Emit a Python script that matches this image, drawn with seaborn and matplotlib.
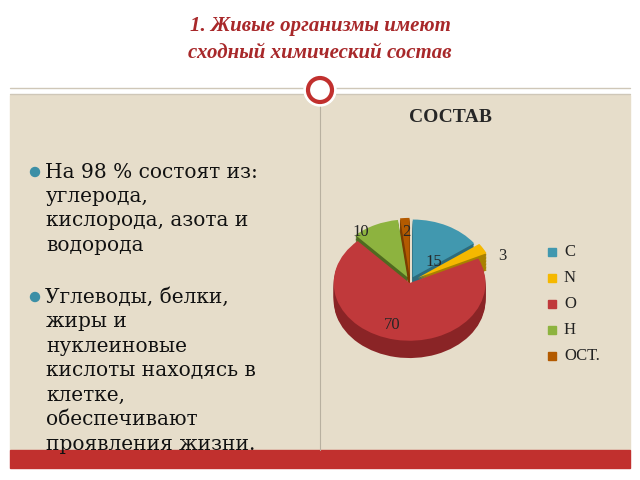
import matplotlib.pyplot as plt
import seaborn as sns
from matplotlib.patches import Rectangle, Circle

sns.set_style("white")
plt.rcParams['font.family'] = ['Liberation Serif', 'DejaVu Serif']

labels = ['C', 'N', 'O', 'H', 'ОСТ.']
values = [15, 3, 70, 10, 2]
colors = ['#4198af', '#f5b800', '#c0393b', '#8db33f', '#b35a00']
dark = ['#2c6b7c', '#a88000', '#8a2426', '#4f6a20', '#7a3d00']
explode = [0.08, 0.12, 0.03, 0.08, 0.1]

fig = plt.figure(figsize=(6.4, 4.8), dpi=100)
bg = fig.add_axes([0, 0, 1, 1])
bg.set_xlim(0, 640); bg.set_ylim(480, 0); bg.axis('off')
bg.add_patch(Rectangle((0, 0), 640, 480, color='white'))
bg.add_patch(Rectangle((10, 95), 620, 355, color='#e6ddca'))
bg.add_patch(Rectangle((10, 450), 620, 18, color='#c1302e'))
bg.plot([10, 630], [88, 88], color='#cfc7b8', lw=1)
bg.plot([10, 630], [94, 94], color='#cfc7b8', lw=1)
bg.plot([320, 320], [95, 450], color='#b8b0a0', lw=0.8)
bg.add_patch(Circle((320, 90), 16, color='white', zorder=3))
bg.add_patch(Circle((320, 90), 12, fill=False, ec='#c1302e', lw=3, zorder=4))
bg.text(320, 26, '1. Живые организмы имеют', color='#a8282a', fontsize=15,
        fontweight='bold', style='italic', ha='center', va='center')
bg.text(320, 53, 'сходный химический состав', color='#a8282a', fontsize=15,
        fontweight='bold', style='italic', ha='center', va='center')

bullets = [(172, ['На 98 % состоят из:', 'углерода,', 'кислорода, азота и', 'водорода']),
           (297, ['Углеводы, белки,', 'жиры и', 'нуклеиновые', 'кислоты находясь в',
                  'клетке,', 'обеспечивают', 'проявления жизни.'])]
for y0, lines in bullets:
    bg.add_patch(Circle((35, y0), 4.5, color='#3c8fa6'))
    for i, s in enumerate(lines):
        bg.text(45 if i == 0 else 46, y0 + i * 24.5, s, fontsize=14.5, va='center',
                family=['DejaVu Serif'], color='#111111')

bg.text(450, 118, 'СОСТАВ', fontsize=14, fontweight='bold', ha='center', va='center')

ax = fig.add_axes([325 / 640, 1 - 365 / 480, 170 / 640, 150 / 480])
for k in range(12, 0, -1):
    ax.pie(values, colors=dark, explode=explode, startangle=90,
           counterclock=False, center=(0, -0.025 * k), wedgeprops={'linewidth': 0})
ax.pie(values, colors=colors, explode=explode, startangle=90,
       counterclock=False, center=(0, 0), wedgeprops={'linewidth': 0})
ax.set_aspect('auto')
ax.set_xlim(-1.12, 1.12); ax.set_ylim(-1.45, 1.15)
ax.axis('off')

top = fig.add_axes([0, 0, 1, 1], facecolor='none')
top.set_xlim(0, 640); top.set_ylim(480, 0); top.axis('off')
for txt, (x, y) in zip(['15', '3', '70', '10', '2'],
                       [(434, 262), (502, 256), (392, 325), (361, 232), (406, 232)]):
    top.text(x, y, txt, fontsize=12, ha='center', va='center')

for i, (lab, c) in enumerate(zip(labels, colors)):
    y = 252 + i * 26
    top.add_patch(Rectangle((548, y - 4), 8, 8, color=c))
    top.text(564, y, lab, fontsize=12, va='center', color='#222222')

fig.savefig('out.png', dpi=100)
